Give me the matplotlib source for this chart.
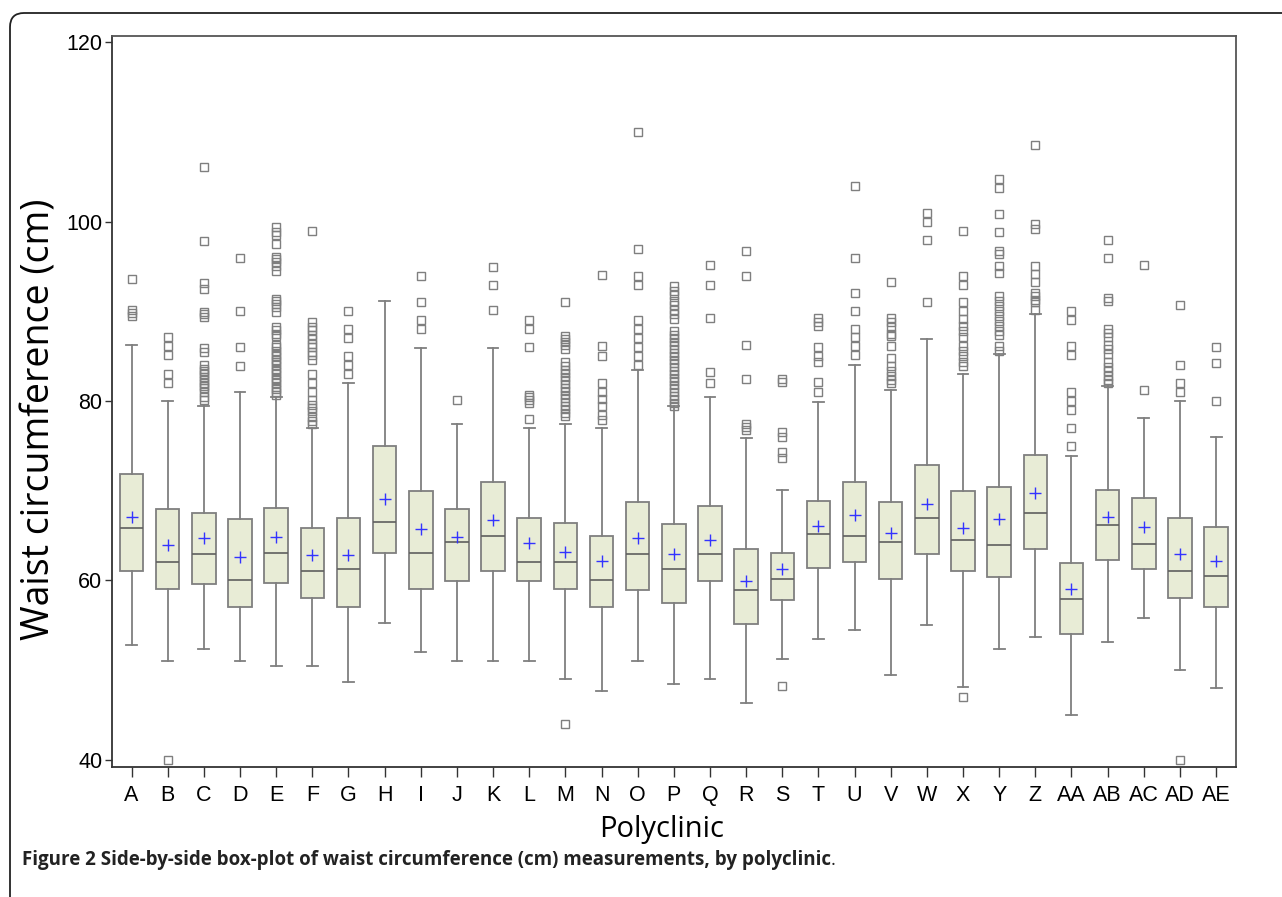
import matplotlib
matplotlib.use("Agg")
import matplotlib.pyplot as plt
from matplotlib.patches import FancyBboxPatch

# polyclinic labels
clinics = ["A", "B", "C", "D", "E", "F", "G", "H", "I", "J", "K", "L", "M", "N", "O",
           "P", "Q", "R", "S", "T", "U", "V", "W", "X", "Y", "Z", "AA", "AB", "AC", "AD", "AE"]

# box statistics (cm)
q1 = [61.0, 59.0, 59.6, 57.0, 59.7, 58.0, 57.0, 63.1, 59.0, 59.9, 61.0, 59.9, 59.0, 57.0, 58.9,
      57.5, 59.9, 55.1, 57.8, 61.4, 62.1, 60.2, 63.0, 61.0, 60.4, 63.5, 54.0, 62.3, 61.3, 58.0, 57.0]
medians = [65.9, 62.1, 63.0, 60.0, 63.1, 61.0, 61.3, 66.5, 63.1, 64.3, 65.0, 62.1, 62.1, 60.1, 63.0,
           61.3, 63.0, 58.9, 60.2, 65.2, 65.0, 64.3, 67.0, 64.5, 64.0, 67.5, 57.9, 66.2, 64.1, 61.0, 60.5]
q3 = [71.9, 68.0, 67.5, 66.9, 68.1, 65.8, 67.0, 75.0, 70.0, 68.0, 71.0, 67.0, 66.4, 65.0, 68.8,
      66.3, 68.3, 63.5, 63.1, 68.9, 71.0, 68.7, 72.9, 70.0, 70.4, 74.0, 62.0, 70.1, 69.2, 67.0, 66.0]
means = [67.1, 64.0, 64.7, 62.6, 64.8, 62.8, 62.8, 69.1, 65.7, 64.8, 66.7, 64.2, 63.2, 62.2, 64.7,
         63.0, 64.5, 59.9, 61.3, 66.1, 67.3, 65.3, 68.5, 65.8, 66.8, 69.7, 59.1, 67.1, 66.0, 62.9, 62.2]
whisker_low = [52.8, 51.0, 52.4, 51.0, 50.5, 50.5, 48.7, 55.3, 52.0, 51.0, 51.0, 51.0, 49.0, 47.7, 51.0,
               48.5, 49.0, 46.3, 51.2, 53.5, 54.5, 49.5, 55.0, 48.1, 52.4, 53.7, 45.0, 53.1, 55.8, 50.0, 48.0]
whisker_high = [86.3, 80.0, 79.4, 81.0, 80.5, 77.0, 82.0, 91.1, 85.9, 77.4, 85.9, 77.0, 77.4, 77.0, 83.5,
                79.4, 80.5, 75.9, 70.1, 79.9, 84.0, 81.2, 86.9, 83.0, 85.3, 89.7, 73.9, 81.7, 78.1, 80.0, 76.0]

outliers = [
    [93.6, 90.1, 89.8, 89.5],
    [87.1, 86.1, 85.1, 83.0, 82.0, 40.0],
    [106.1, 97.8, 93.2, 92.5, 89.9, 89.7, 89.4, 85.9, 85.5, 84.0, 83.6, 83.3, 83.0, 82.7, 82.3,
     82.0, 81.7, 81.4, 81.0, 80.5, 80.1],
    [95.9, 90.0, 86.0, 83.9],
    [99.4, 98.9, 98.5, 97.5, 96.1, 95.8, 95.5, 95.1, 94.5, 91.4, 91.1, 90.8, 90.5, 89.9, 88.2,
     87.9, 87.5, 87.2, 86.3, 86.0, 85.6, 85.3, 85.0, 84.6, 84.3, 84.0, 83.6, 83.3, 83.0, 82.6,
     82.3, 82.0, 81.6, 81.3, 81.0, 80.7],
    [99.0, 88.8, 88.3, 87.9, 87.4, 86.9, 86.4, 86.0, 85.5, 85.1, 84.6, 83.0, 82.0, 81.0, 80.1,
     79.6, 79.2, 78.9, 78.2, 77.8, 77.4],
    [90.0, 88.0, 87.0, 85.0, 84.0, 83.0],
    [],
    [93.9, 91.0, 89.0, 88.0],
    [80.1],
    [94.9, 92.9, 90.2],
    [89.0, 88.0, 86.0, 80.7, 80.4, 80.1, 79.8, 78.0],
    [91.0, 87.2, 86.9, 86.6, 86.2, 85.8, 84.3, 83.9, 83.5, 83.1, 82.7, 82.3, 81.9, 81.5, 81.1,
     80.7, 80.3, 79.9, 79.5, 79.1, 78.7, 78.3, 44.0],
    [94.0, 86.1, 85.0, 82.0, 81.0, 80.2, 79.4, 78.5, 77.9],
    [110.0, 96.9, 93.9, 92.9, 89.0, 88.0, 87.0, 86.0, 85.0, 84.0],
    [92.8, 92.3, 91.8, 91.2, 90.7, 90.2, 89.7, 89.1, 87.8, 87.4, 87.0, 86.6, 86.2, 85.8, 85.4,
     85.0, 84.6, 84.2, 83.8, 83.4, 83.0, 82.6, 82.2, 81.8, 81.4, 81.0, 80.6, 80.2, 79.8, 79.4],
    [95.2, 92.9, 89.3, 83.2, 82.0],
    [96.7, 93.9, 86.3, 82.5, 77.4, 77.1, 76.8],
    [82.5, 82.1, 76.5, 76.0, 74.3, 73.7, 48.2],
    [89.3, 88.8, 88.4, 86.0, 85.0, 84.4, 82.1, 81.0],
    [104.0, 95.9, 92.0, 90.0, 88.0, 87.1, 86.1, 85.1],
    [93.3, 89.3, 88.8, 88.3, 87.5, 87.2, 86.1, 84.8, 83.9, 83.3, 82.8, 82.4, 82.0],
    [101.0, 100.0, 97.9, 91.0],
    [99.0, 93.9, 92.9, 91.0, 90.0, 89.1, 88.4, 87.8, 87.1, 86.1, 85.6, 85.0, 84.4, 83.9, 47.0],
    [104.8, 103.8, 100.8, 98.9, 96.7, 96.4, 95.1, 94.3, 91.7, 91.1, 90.6, 90.0, 89.5, 88.9, 88.4,
     87.8, 87.4, 86.1, 85.6],
    [108.5, 99.7, 99.2, 95.1, 94.2, 93.3, 92.1, 91.7, 91.3, 91.0, 90.2],
    [90.0, 89.0, 86.1, 85.1, 81.0, 80.0, 79.0, 77.0, 75.0],
    [98.0, 96.0, 91.5, 91.1, 88.0, 87.6, 87.1, 86.3, 85.8, 85.2, 84.3, 83.8, 83.3, 82.8, 82.4, 82.0],
    [95.2, 81.2],
    [90.7, 84.0, 82.0, 81.0, 40.0],
    [86.0, 84.2, 80.0],
]

stats = []
for i, name in enumerate(clinics):
    stats.append({
        "label": name, "q1": q1[i], "med": medians[i], "q3": q3[i], "mean": means[i],
        "whislo": whisker_low[i], "whishi": whisker_high[i], "fliers": outliers[i],
    })

grey = "#7f7f7f"
fig = plt.figure(figsize=(12.82, 8.97), dpi=100)
ax = fig.add_axes([0.0874, 0.1449, 0.8767, 0.815])

ax.bxp(
    stats,
    positions=list(range(len(clinics))),
    widths=0.65,
    capwidths=0.3,
    patch_artist=True,
    showmeans=True,
    boxprops=dict(facecolor="#e8ecd6", edgecolor=grey, linewidth=1.3),
    medianprops=dict(color="#5f5f5f", linewidth=1.2),
    whiskerprops=dict(color=grey, linewidth=1.3),
    capprops=dict(color=grey, linewidth=1.3),
    flierprops=dict(marker="s", markerfacecolor="none", markeredgecolor=grey,
                    markersize=5.8, markeredgewidth=1.0),
    meanprops=dict(marker="+", markeredgecolor="#3333ff", markersize=8, markeredgewidth=1.0),
)

ax.set_xlim(-0.54, 30.55)
ax.set_ylim(39.2, 120.7)
ax.set_yticks([40, 60, 80, 100, 120])
ax.set_xticks(range(len(clinics)))
ax.set_xticklabels(clinics)

for lab in ax.get_xticklabels() + ax.get_yticklabels():
    lab.set_fontfamily("Liberation Sans")
    lab.set_fontsize(15.5)
ax.tick_params(axis="x", length=7, width=1, color="#333333", pad=6)
ax.tick_params(axis="y", length=5, width=1, color="#333333", pad=2)

for side in ["left", "bottom"]:
    ax.spines[side].set_color("#333333")
    ax.spines[side].set_linewidth(1.3)
for side in ["top", "right"]:
    ax.spines[side].set_color("#555555")
    ax.spines[side].set_linewidth(1.3)

ax.set_ylabel("Waist circumference (cm)", fontsize=27, fontfamily="Open Sans")
ax.yaxis.set_label_coords(-0.048, 0.475)
ax.set_xlabel("Polyclinic", fontsize=21, fontfamily="Open Sans")
ax.xaxis.set_label_coords(0.489, -0.066)

# rounded frame around the figure
frame = FancyBboxPatch((10, -40), 1400, 897 - 13 + 40,
                       boxstyle="round,pad=0,rounding_size=14",
                       transform=None, fill=False, edgecolor="#222222", linewidth=1.3)
fig.add_artist(frame)

cap_y = 1 - 860 / 897
cap = fig.text(22 / 1282, cap_y,
               "Figure 2 Side-by-side box-plot of waist circumference (cm) measurements, by polyclinic",
               fontsize=13.5, fontweight="bold", fontfamily="Open Sans", color="#222222", va="center")
renderer = fig.canvas.get_renderer()
bb = cap.get_window_extent(renderer)
fig.text(bb.x1 / 1282, cap_y, ".", fontsize=13.5, fontfamily="Open Sans",
         color="#222222", va="center")

fig.savefig("out.png", dpi=100)
